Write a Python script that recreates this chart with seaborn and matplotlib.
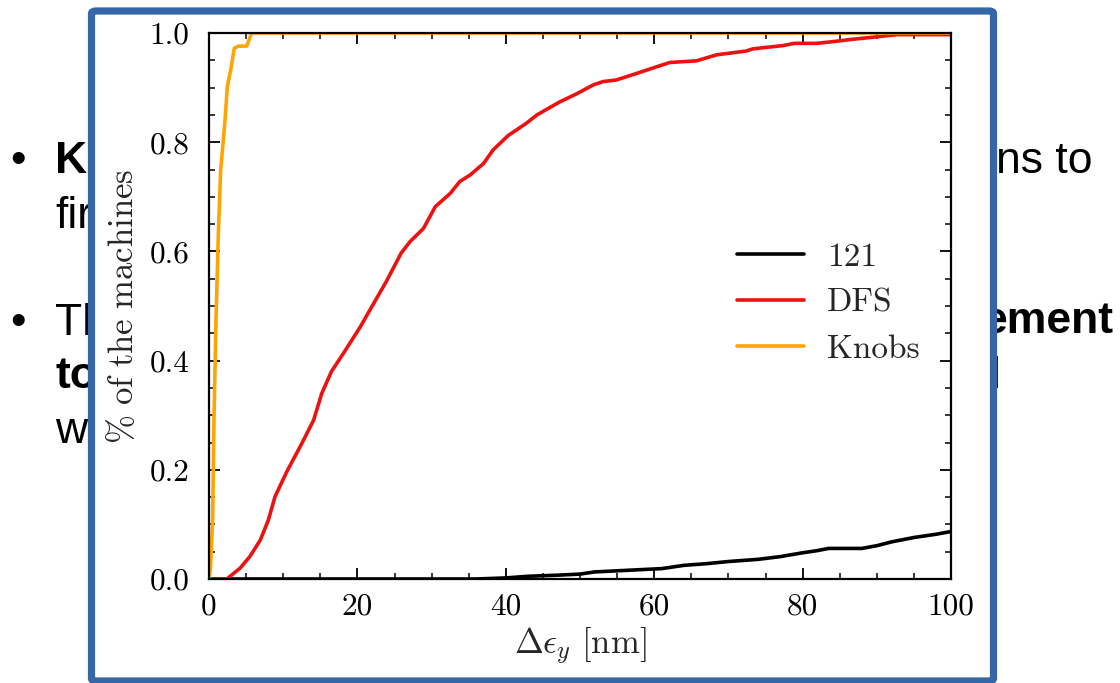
import numpy as np
import pandas as pd
import seaborn as sns
import matplotlib
matplotlib.use("Agg")
import matplotlib.pyplot as plt
from matplotlib.patches import FancyBboxPatch
from matplotlib.ticker import MultipleLocator

# ---------------- data ----------------
series_names = ["121", "DFS", "Knobs"]
series_colors = ["black", "#ee1111", "#ffa500"]

x_121 = [0, 36, 40, 43, 47, 50, 52, 55, 58, 61, 64, 67, 70, 74, 77, 80, 82,
         83.5, 88, 90, 92, 95, 98, 100]
y_121 = [0, 0, 0.002, 0.005, 0.007, 0.009, 0.013, 0.015, 0.017, 0.019, 0.025,
         0.028, 0.032, 0.036, 0.041, 0.048, 0.052, 0.056, 0.056, 0.061, 0.068,
         0.076, 0.082, 0.087]

x_dfs = [0, 2.4, 4.2, 5.5, 6.9, 8.0, 8.9, 10.5, 12.5, 14.1, 15.2, 16.5, 18.1,
         20.4, 21.7, 23.9, 25.9, 27.1, 28.9, 30.5, 32.5, 33.8, 35.2, 37.0,
         38.3, 40.3, 42.8, 44.2, 46.0, 47.3, 49.6, 51.8, 53.1, 54.9, 57.2,
         60.3, 62.1, 65.7, 68.4, 72.4, 73.3, 77.4, 78.8, 81.9, 84.6, 86.4,
         90.0, 92.7, 100]
y_dfs = [0, 0, 0.02, 0.041, 0.071, 0.108, 0.151, 0.197, 0.248, 0.291, 0.340,
         0.380, 0.413, 0.462, 0.493, 0.545, 0.597, 0.618, 0.642, 0.682, 0.706,
         0.728, 0.740, 0.761, 0.786, 0.812, 0.835, 0.850, 0.864, 0.874, 0.889,
         0.905, 0.911, 0.914, 0.924, 0.938, 0.946, 0.949, 0.960, 0.967, 0.971,
         0.977, 0.981, 0.981, 0.985, 0.988, 0.993, 0.997, 0.997]

x_knobs = [0, 0.2, 0.49, 0.67, 0.94, 1.26, 1.57, 1.9, 2.16, 2.47, 2.92, 3.41,
           3.95, 5.08, 5.75, 100]
y_knobs = [0, 0.02, 0.108, 0.291, 0.474, 0.633, 0.749, 0.80, 0.841, 0.902,
           0.932, 0.972, 0.976, 0.976, 1.0, 1.0]

x_label = r"$\Delta\epsilon_y\ [\mathrm{nm}]$"
y_label = r"$\mathrm{\%\ of\ the\ machines}$"
x_ticks = [0, 20, 40, 60, 80, 100]
y_ticks = [0.0, 0.2, 0.4, 0.6, 0.8, 1.0]

# slide text fragments behind the chart
slide_left = [("K", 173, True), ("fir", 228, False), ("Th", 335, False),
              ("to", 388, True), ("w", 443, False)]
bullet_rows = [173, 335]
slide_right = [("ns to", 1092, 173, False), ("ement", 1113, 333, True),
               ("l", 1001, 388, False)]

# ---------------- figure ----------------
sns.set_theme(style="ticks")
plt.rcParams["font.family"] = "serif"
plt.rcParams["font.serif"] = ["cmr10"]
plt.rcParams["mathtext.fontset"] = "cm"
plt.rcParams["axes.formatter.use_mathtext"] = True
plt.rcParams["axes.unicode_minus"] = False

W, H = 1120, 683
fig = plt.figure(figsize=(W / 100, H / 100), dpi=100)
fig.patch.set_facecolor("white")

# background slide text
for txt, base, bold in slide_left:
    fig.text(55 / W, 1 - base / H, txt, fontsize=32,
             family=["Liberation Sans", "DejaVu Sans"],
             fontweight="bold" if bold else "normal",
             ha="left", va="baseline", zorder=0.5, color="black")
for base in bullet_rows:
    fig.text(10 / W, 1 - base / H, "\u2022", fontsize=32,
             family=["Liberation Sans", "DejaVu Sans"],
             ha="left", va="baseline", zorder=0.5, color="black")
for txt, xr, base, bold in slide_right:
    fig.text(xr / W, 1 - base / H, txt, fontsize=32,
             family=["Liberation Sans", "DejaVu Sans"],
             fontweight="bold" if bold else "normal",
             ha="right", va="baseline", zorder=0.5, color="black")

# blue framed white box
bl, br, bt, bb = 91.5, 993.5, 11, 681
box = FancyBboxPatch((bl / W, 1 - bb / H), (br - bl) / W, (bb - bt) / H,
                     boxstyle="round,pad=0,rounding_size=0.004",
                     transform=fig.transFigure, facecolor="white",
                     edgecolor="#3566a8", linewidth=5.2, zorder=1)
fig.patches.append(box)

ax = fig.add_axes([209 / W, 1 - 579 / H, (951 - 209) / W, (579 - 33) / H])
ax.set_zorder(2)
ax.set_facecolor("white")

df = pd.concat([
    pd.DataFrame({"x": x_121, "y": y_121, "series": "121"}),
    pd.DataFrame({"x": x_dfs, "y": y_dfs, "series": "DFS"}),
    pd.DataFrame({"x": x_knobs, "y": y_knobs, "series": "Knobs"}),
], ignore_index=True)

sns.lineplot(data=df, x="x", y="y", hue="series", hue_order=series_names,
             palette=dict(zip(series_names, series_colors)),
             estimator=None, sort=False, linewidth=2.6, ax=ax)

ax.set_xlim(0, 100)
ax.set_ylim(0, 1)
ax.set_xticks(x_ticks)
ax.set_yticks(y_ticks)
ax.set_xticklabels([str(t) for t in x_ticks])
ax.set_yticklabels([f"{t:.1f}" for t in y_ticks])
ax.xaxis.set_minor_locator(MultipleLocator(5))
ax.yaxis.set_minor_locator(MultipleLocator(0.05))
ax.tick_params(which="both", direction="in", top=True, right=True,
               colors="black", labelsize=22.5)
ax.tick_params(which="major", length=8, width=1.3)
ax.tick_params(axis="y", which="major", pad=14)
ax.tick_params(axis="x", which="major", pad=10)
ax.tick_params(which="minor", length=4.5, width=1.1)
for s in ax.spines.values():
    s.set_linewidth(1.6)
    s.set_color("black")

ax.set_xlabel(x_label, fontsize=25, labelpad=4)
ax.set_ylabel(y_label, fontsize=25, labelpad=7)

leg = ax.legend(loc="center left", bbox_to_anchor=(0.712, 0.505),
                frameon=False, fontsize=24, handlelength=2.0,
                handletextpad=0.7, labelspacing=0.5, borderpad=0,
                borderaxespad=0)
for line in leg.get_lines():
    line.set_linewidth(2.6)

fig.savefig("out.png", dpi=100, facecolor="white")
